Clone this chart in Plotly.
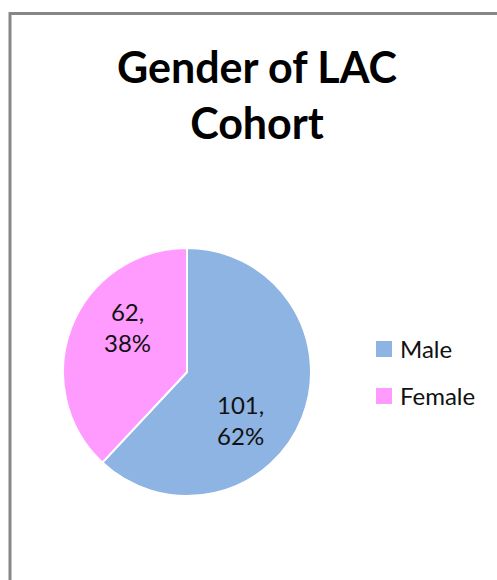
import plotly.graph_objects as go

# ---- data ----
categories = ["Male", "Female"]
counts = [101, 62]
colors = ["#8DB4E2", "#FF9BFF"]
title_lines = ["Gender of LAC", "Cohort"]

W, H = 497, 580
total = sum(counts)
pcts = [round(100 * c / total) for c in counts]

def px(x):
    return x / W

def py(y):
    return 1 - y / H

fig = go.Figure()
fig.add_trace(go.Pie(
    labels=categories,
    values=counts,
    sort=False,
    direction="clockwise",
    rotation=0,
    marker=dict(colors=colors, line=dict(color="white", width=2)),
    textinfo="none",
    hoverinfo="label+value+percent",
    showlegend=False,
    domain=dict(x=[px(63), px(311)], y=[py(496), py(248)]),
))

annotations = []
# title
annotations.append(dict(
    x=px(257), y=py(94), xref="paper", yref="paper",
    text="<br>".join(title_lines), showarrow=False,
    font=dict(family="Lato", size=43, color="black", weight="bold"),
    xanchor="center", yanchor="middle", align="center",
))
# data labels
label_pos = [(240, 420), (127, 327)]
for (lx, ly), c, p in zip(label_pos, counts, pcts):
    annotations.append(dict(
        x=px(lx), y=py(ly), xref="paper", yref="paper",
        text=f"{c},<br>{p}%", showarrow=False,
        font=dict(family="Lato", size=24, color="#111111"),
        xanchor="center", yanchor="middle", align="center",
    ))

# legend (manual)
shapes = []
leg_x0, leg_size, leg_y0, leg_gap = 376, 16, 349, 47
for i, (cat, col) in enumerate(zip(categories, colors)):
    cy = leg_y0 + i * leg_gap
    shapes.append(dict(
        type="rect", xref="paper", yref="paper",
        x0=px(leg_x0), x1=px(leg_x0 + leg_size),
        y0=py(cy + leg_size / 2), y1=py(cy - leg_size / 2),
        fillcolor=col, line=dict(width=0),
    ))
    annotations.append(dict(
        x=px(leg_x0 + leg_size + 6), y=py(cy - 1), xref="paper", yref="paper",
        text=cat, showarrow=False,
        font=dict(family="Lato", size=24, color="#111111"),
        xanchor="left", yanchor="middle",
    ))

# chart border (running off right & bottom)
shapes.append(dict(
    type="rect", xref="paper", yref="paper",
    x0=px(10), x1=px(W + 20), y0=py(H + 20), y1=py(13.5),
    line=dict(color="#878787", width=3), fillcolor="rgba(0,0,0,0)",
    layer="below",
))

fig.update_layout(
    width=W, height=H,
    margin=dict(l=0, r=0, t=0, b=0),
    paper_bgcolor="white",
    plot_bgcolor="white",
    annotations=annotations,
    shapes=shapes,
)

fig.write_html(
    "out.html",
    config={"displayModeBar": False},
    post_script="document.body.style.margin='0';document.body.style.overflow='hidden';",
)
